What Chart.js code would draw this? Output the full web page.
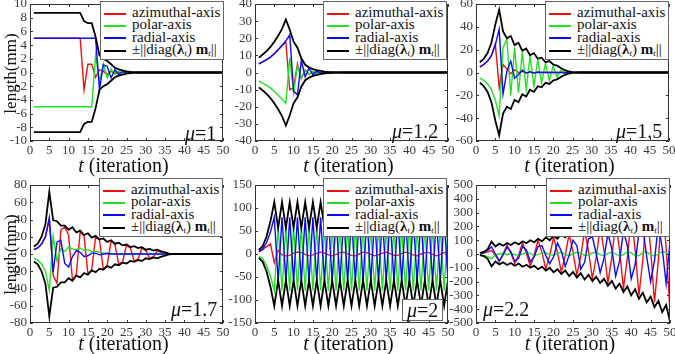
<!DOCTYPE html>
<html>
<head>
<meta charset="utf-8">
<script src="https://cdn.jsdelivr.net/npm/chart.js@4.4.1/dist/chart.umd.min.js"></script>
<style>
  body { margin: 0; background: #fff; }
  #fig { position: relative; width: 675px; height: 354px; overflow: hidden; font-family: "Liberation Serif", "Times New Roman", serif; }
  canvas.plot { position: absolute; left: -20px; top: -20px; }
  .leg { position: absolute; background: #fff; border: 1.5px solid #666; box-sizing: border-box; width: 124px; height: 59px; padding-top: 4px; font-size: 15px; color: #111; overflow: hidden; }
  .leg div { height: 12.4px; line-height: 12.4px; white-space: nowrap; }
  .sw { display: inline-block; width: 22px; height: 2px; margin: 0 6px 0 3px; vertical-align: middle; }
  .leg sub { font-size: 9px; line-height: 0; vertical-align: -2px; }
  .mu { position: absolute; font-size: 20px; line-height: 20px; color: #111; white-space: nowrap; }
  .mubox { border: 1px solid #666; background: #fff; padding: 0 4px; }
  .xl { position: absolute; font-size: 20px; line-height: 20px; width: 160px; text-align: center; color: #111; }
  .yl { position: absolute; font-size: 17px; line-height: 17px; width: 100px; text-align: center; transform: rotate(-90deg); color: #111; }
</style>
</head>
<body>
<div id="fig"></div>
<script>
// iteration index
const ITER = [1,2,3,4,5,6,7,8,9,10,11,12,13,14,15,16,17,18,19,20,21,22,23,24,25,
  26,27,28,29,30,31,32,33,34,35,36,37,38,39,40,41,42,43,44,45,46,47,48,49,50];
const X_TICKS = [0,5,10,15,20,25,30,35,40,45,50];
const SERIES = ['azimuthal-axis', 'polar-axis', 'radial-axis'];

// mu = 1
const AZ_1 = [5,5,5,5,5,5,5,5,5,5, 5,5,5,-2.5,1.2,1.2,-0.7,0.4,0.2,-0.3,
  0.15,-0.1,0.05,0,0,0,0,0,0,0, 0,0,0,0,0,0,0,0,0,0, 0,0,0,0,0,0,0,0,0,0];
const PO_1 = [-5,-5,-5,-5,-5,-5,-5,-5,-5,-5, -5,-5,-5,-5,-5,-5,2.6,-1.3,1.3,-0.8,
  0.5,-0.3,0.2,-0.1,0.05,0,0,0,0,0, 0,0,0,0,0,0,0,0,0,0, 0,0,0,0,0,0,0,0,0,0];
const RA_1 = [5,5,5,5,5,5,5,5,5,5, 5,5,5,5,5,5,5,-2.5,1.1,0.9,
  -0.8,0.4,-0.3,0.15,-0.08,0.04,0,0,0,0, 0,0,0,0,0,0,0,0,0,0, 0,0,0,0,0,0,0,0,0,0];
const NORM_1 = [8.7,8.7,8.7,8.7,8.7,8.7,8.7,8.7,8.7,8.7, 8.7,8.7,8.7,7.5,7.2,7.2,5.2,2.5,2.0,1.7,
  1.2,0.7,0.45,0.3,0.15,0.08,0.03,0,0,0, 0,0,0,0,0,0,0,0,0,0, 0,0,0,0,0,0,0,0,0,0];

// mu = 1.2
const AZ_2 = [5,6.2,7.5,9,11,13.3,15.8,17.5,-10,-9, 5,-3.5,1.5,-1,0.5,-0.3,0.1,0,0,0,
  0,0,0,0,0,0,0,0,0,0, 0,0,0,0,0,0,0,0,0,0, 0,0,0,0,0,0,0,0,0,0];
const PO_2 = [-5,-6.2,-7.5,-9,-11,-13.3,-15.5,-18,8.5,-12, 4,-3,1.5,-1,0.5,-0.3,0.1,0,0,0,
  0,0,0,0,0,0,0,0,0,0, 0,0,0,0,0,0,0,0,0,0, 0,0,0,0,0,0,0,0,0,0];
const RA_2 = [5,6.2,7.5,9,11,13.3,15.8,18.5,22,-11, -13,7,-2.5,2.5,-1.2,0.8,-0.4,0.3,-0.1,0.05,
  0,0,0,0,0,0,0,0,0,0, 0,0,0,0,0,0,0,0,0,0, 0,0,0,0,0,0,0,0,0,0];
const NORM_2 = [8.7,10.5,12.5,15,18,21.5,25.5,31,25,18, 14.5,8.3,4.5,3,2,1.4,0.9,0.5,0.3,0.2,
  0.1,0.05,0,0,0,0,0,0,0,0, 0,0,0,0,0,0,0,0,0,0, 0,0,0,0,0,0,0,0,0,0];

// mu = 1.5
const AZ_3 = [5,7,10,15,25,-13,7,3,-1,2.5, 0,1,-0.5,0.8,-0.3,0.5,0,0.3,0,0.2,
  0,0,0,0,0,0,0,0,0,0, 0,0,0,0,0,0,0,0,0,0, 0,0,0,0,0,0,0,0,0,0];
const PO_3 = [-5,-7,-10,-15,-24,-38,22,29,-20,22, -18,18,-15,14,-12,11,-9,8,-7,6,
  -4,2,-1,0.3,0,0,0,0,0,0, 0,0,0,0,0,0,0,0,0,0, 0,0,0,0,0,0,0,0,0,0];
const RA_3 = [5,7,10,15,24,38,-19,1,10,-5, -2,2,-0.5,0.5,-0.5,0.2,0,0,0,0,
  0,0,0,0,0,0,0,0,0,0, 0,0,0,0,0,0,0,0,0,0, 0,0,0,0,0,0,0,0,0,0];
const NORM_3 = [9,12,17,26,42,55,36,30,32,24, 26,19,21,15,17,12,13,9,10,7,
  6,4,2,1,0.4,0.1,0,0,0,0, 0,0,0,0,0,0,0,0,0,0, 0,0,0,0,0,0,0,0,0,0];

// mu = 1.7
const AZ_4 = [5,7,11.5,20,40,-25,-34,28,31,22, -30,-24,26,21,-23,-18,20,16,-18,-13,
  15,11,-12,-9,10,7,-8,-6,7,4, -5,-3,4,2,-1.5,0.3,0,0,0,0, 0,0,0,0,0,0,0,0,0,0];
const PO_4 = [-5,-7,-11.5,-20,-42,21,-8,6,3,8, 6,5,7,4,5,3,3,2,1,1,
  0.5,0,0,0,0,0,0,0,0,0, 0,0,0,0,0,0,0,0,0,0, 0,0,0,0,0,0,0,0,0,0];
const RA_4 = [5,7,11.5,20,42,-21,14,16,-11,-15, -3,4,2,-3,-2,1,1,-1,0,0.5,
  0,0,0,0,0,0,0,0,0,0, 0,0,0,0,0,0,0,0,0,0, 0,0,0,0,0,0,0,0,0,0];
const NORM_4 = [8.7,12,20,34.6,72,39,38,33,33,28, 31,25,27,22,24,19,21,17,18,14,
  16,12,13,10,11,8,9,7,8,5, 6,4,5,3,2,0.5,0,0,0,0, 0,0,0,0,0,0,0,0,0,0];

// mu = 2
const AZ_5 = [5,10,16,22,-19,8,-2,-4,-3,2, 4,3,-1,-4,-2,2,4,2,-2,-4,
  -1,3,4,1,-3,-4,0,4,3,-1, -4,-2,2,4,1,-3,-3,1,4,2, -2,-4,0,3,3,-1,-4,-1,3,3];
const PO_5 = [-5,-10,-25,-48,-80,60,-80,60,-80,60, -80,60,-80,60,-80,60,-80,60,-80,60,
  -80,60,-80,60,-80,60,-80,60,-80,60, -80,60,-80,60,-80,60,-80,60,-80,60, -80,60,-80,60,-80,60,-80,60,-80,60];
const RA_5 = [5,10,25,48,80,-60,80,-60,80,-60, 80,-60,80,-60,80,-60,80,-60,80,-60,
  80,-60,80,-60,80,-60,80,-60,80,-60, 80,-60,80,-60,80,-60,80,-60,80,-60, 80,-60,80,-60,80,-60,80,-60,80,-60];
const NORM_5 = [8.7,17,38,71,113,57,113,57,113,57, 113,57,113,57,113,57,113,57,113,57,
  113,57,113,57,113,57,113,57,113,57, 113,57,113,57,113,57,113,57,113,57, 113,57,113,57,113,57,113,57,113,57];

// mu = 2.2
const AZ_6 = [3,6,15,25,-10,-55,0,65,5,-70, -5,80,5,-90,-5,100,10,-110,-10,120,
  10,-130,-10,145,15,-155,-15,170,20,-180, -20,195,25,-210,-25,230,30,-250,-30,275,
  35,-300,-40,320,40,-350,-45,380,50,-420];
const PO_6 = [-5,-10,-20,-35,-5,0,5,-5,5,-5, -8,0,10,5,-10,-5,10,8,-5,-10,
  5,12,-2,-12,0,12,5,-10,-8,8, 12,-5,-12,5,15,0,-15,-5,15,10, -12,-12,10,15,-5,-15,0,18,10,-15];
const RA_6 = [5,10,25,52,0,-50,-5,50,15,-52, -30,55,30,-58,-20,55,60,-10,-70,-20,
  80,20,-90,-10,100,60,-110,-60,110,125, 0,-135,-30,150,40,-160,-50,170,60,-180,
  -80,160,190,-20,-200,-50,220,40,-215,90];
const NORM_6 = [8,15,35,90,55,75,60,80,65,85, 70,92,78,100,85,110,92,120,100,132,
  110,145,120,160,130,170,140,185,150,195, 165,210,180,230,195,250,215,275,235,300,
  255,325,280,350,310,385,340,420,370,490];

// layout of the six panels: plot box [left, top, right, bottom] in page pixels
const PANELS = [
  { mu: '1',   az: AZ_1, po: PO_1, ra: RA_1, nm: NORM_1, yMin: -10,  yMax: 10,  yStep: 2,   box: [30, 4, 223, 141],   leg: [100, 1],   muAt: [185, 123], ylab: true },
  { mu: '1.2', az: AZ_2, po: PO_2, ra: RA_2, nm: NORM_2, yMin: -40,  yMax: 40,  yStep: 10,  box: [255, 4, 448, 141],  leg: [323, 1],   muAt: [392, 121] },
  { mu: '1.5', az: AZ_3, po: PO_3, ra: RA_3, nm: NORM_3, yMin: -60,  yMax: 60,  yStep: 20,  box: [476, 4, 669, 141],  leg: [545, 1],   muAt: [616, 121] },
  { mu: '1.7', az: AZ_4, po: PO_4, ra: RA_4, nm: NORM_4, yMin: -80,  yMax: 80,  yStep: 20,  box: [30, 185, 223, 323], leg: [99, 178],  muAt: [171, 299], ylab: true },
  { mu: '2',   az: AZ_5, po: PO_5, ra: RA_5, nm: NORM_5, yMin: -150, yMax: 150, yStep: 50,  box: [255, 185, 448, 323], leg: [323, 178], muAt: [402, 299], boxed: true },
  { mu: '2.2', az: AZ_6, po: PO_6, ra: RA_6, nm: NORM_6, yMin: -500, yMax: 500, yStep: 100, box: [476, 185, 670, 323], leg: [546, 178], muAt: [483, 299] }
];

const COLORS = { az: '#f01010', po: '#22e022', ra: '#0a0aff', nm: '#000000' };
const CW = 715, CH = 394, OFF = 20, YW = 30, XH = 20;
const tickFont = { family: '"Liberation Serif", "Times New Roman", serif', size: 13 };

// box frame and inward tick marks, like the original plots
const framePlugin = {
  id: 'frame',
  afterDraw(chart) {
    const { ctx, chartArea: a, scales: { x, y } } = chart;
    ctx.save();
    ctx.strokeStyle = '#333';
    ctx.lineWidth = 1;
    ctx.strokeRect(Math.round(a.left) + 0.5, Math.round(a.top) + 0.5, Math.round(a.width) - 1, Math.round(a.height) - 1);
    ctx.beginPath();
    x.ticks.forEach(t => {
      const px = Math.round(x.getPixelForValue(t.value)) + 0.5;
      ctx.moveTo(px, a.bottom); ctx.lineTo(px, a.bottom - 3);
      ctx.moveTo(px, a.top); ctx.lineTo(px, a.top + 3);
    });
    y.ticks.forEach(t => {
      const py = Math.round(y.getPixelForValue(t.value)) + 0.5;
      ctx.moveTo(a.left, py); ctx.lineTo(a.left + 3, py);
      ctx.moveTo(a.right, py); ctx.lineTo(a.right - 3, py);
    });
    ctx.stroke();
    ctx.restore();
  }
};

const fig = document.getElementById('fig');
const pts = arr => arr.map((v, k) => ({ x: ITER[k], y: v }));
const line = (data, color, w) => ({ data, borderColor: color, borderWidth: w, pointRadius: 0, tension: 0, fill: false });

PANELS.forEach(p => {
  const [L, T, R, B] = p.box;
  const cv = document.createElement('canvas');
  cv.width = CW; cv.height = CH; cv.className = 'plot';
  fig.appendChild(cv);

  const yTicks = [];
  for (let v = p.yMin; v <= p.yMax; v += p.yStep) yTicks.push(v);

  new Chart(cv, {
    type: 'line',
    data: {
      datasets: [
        line(pts(p.nm), COLORS.nm, 1.8),
        line(pts(p.nm.map(v => -v)), COLORS.nm, 1.8),
        line(pts(p.ra), COLORS.ra, 1.4),
        line(pts(p.po), COLORS.po, 1.4),
        line(pts(p.az), COLORS.az, 1.4)
      ]
    },
    options: {
      responsive: false,
      animation: false,
      events: [],
      layout: { padding: { left: L + OFF - YW, top: T + OFF, right: CW - R - OFF, bottom: CH - B - OFF - XH } },
      plugins: { legend: { display: false }, tooltip: { enabled: false } },
      scales: {
        x: {
          type: 'linear', min: 0, max: 50,
          afterFit: s => { s.height = XH; },
          afterBuildTicks: s => { s.ticks = X_TICKS.map(v => ({ value: v })); },
          grid: { display: false, drawTicks: false },
          border: { display: false },
          ticks: { autoSkip: false, maxRotation: 0, padding: 2, font: tickFont, color: '#3a3a3a' }
        },
        y: {
          type: 'linear', min: p.yMin, max: p.yMax,
          afterFit: s => { s.width = YW; },
          afterBuildTicks: s => { s.ticks = yTicks.map(v => ({ value: v })); },
          grid: { display: false, drawTicks: false },
          border: { display: false },
          ticks: { autoSkip: false, padding: 3, font: tickFont, color: '#3a3a3a' }
        }
      }
    },
    plugins: [framePlugin]
  });

  // legend box
  const leg = document.createElement('div');
  leg.className = 'leg';
  leg.style.left = p.leg[0] + 'px';
  leg.style.top = p.leg[1] + 'px';
  const sw = c => `<span class="sw" style="background:${c}"></span>`;
  leg.innerHTML =
    `<div>${sw(COLORS.az)}${SERIES[0]}</div>` +
    `<div>${sw(COLORS.po)}${SERIES[1]}</div>` +
    `<div>${sw(COLORS.ra)}${SERIES[2]}</div>` +
    `<div>${sw(COLORS.nm)}±||diag(<b>λ</b><sub><i>t</i></sub>) <b>m</b><sub><i>t</i></sub>||</div>`;
  fig.appendChild(leg);

  // mu label
  const mu = document.createElement('div');
  mu.className = 'mu' + (p.boxed ? ' mubox' : '');
  mu.style.left = p.muAt[0] + 'px';
  mu.style.top = p.muAt[1] + 'px';
  mu.innerHTML = `<i>μ</i>=${p.mu}`;
  fig.appendChild(mu);

  // x axis label
  const xl = document.createElement('div');
  xl.className = 'xl';
  xl.style.left = ((L + R) / 2 - 80 - 3) + 'px';
  xl.style.top = (B + (T < 100 ? 14 : 10)) + 'px';
  xl.innerHTML = '<i>t</i> (iteration)';
  fig.appendChild(xl);

  if (p.ylab) {
    const yl = document.createElement('div');
    yl.className = 'yl';
    yl.style.left = (10 - 50) + 'px';
    yl.style.top = ((T + B) / 2 - 8) + 'px';
    yl.textContent = 'length(mm)';
    fig.appendChild(yl);
  }
});
</script>
</body>
</html>
